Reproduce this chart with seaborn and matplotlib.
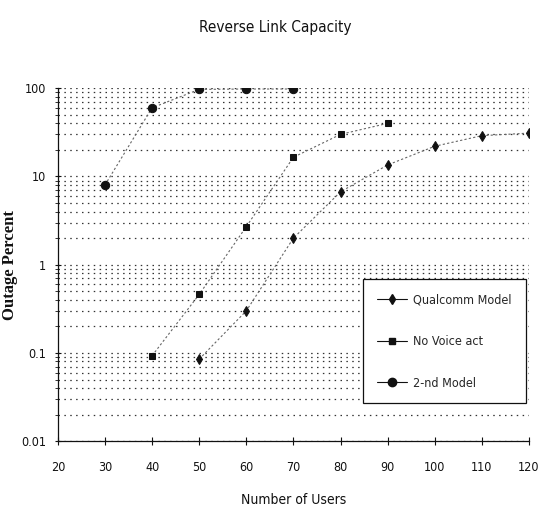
import numpy as np
import pandas as pd
import matplotlib
matplotlib.use("Agg")
import matplotlib.pyplot as plt
from matplotlib.lines import Line2D
from matplotlib.ticker import LogLocator, FixedLocator
import seaborn as sns

# ── Data ──────────────────────────────────────────────────────────────────────
qualcomm_users  = [50, 60, 70, 80, 90, 100, 110, 120]
qualcomm_outage = [0.085, 0.30, 2.0, 6.7, 13.5, 22, 29, 31]

novoice_users  = [40, 50, 60, 70, 80, 90]
novoice_outage = [0.093, 0.46, 2.7, 16.5, 30, 40]

second_users  = [30, 40, 50, 60, 70]
second_outage = [8.0, 60, 97, 98, 98]

x_ticks = [20, 30, 40, 50, 60, 70, 80, 90, 100, 110, 120]
y_ticks = [0.01, 0.1, 1, 10, 100]
y_labels = ["0.01", "0.1", "1", "10", "100"]

INK = "#111111"
GRID = "#333333"

sns.set_style("white")
plt.rcParams["font.family"] = ["DejaVu Sans"]
plt.rcParams["font.stretch"] = "condensed"

fig = plt.figure(figsize=(5.51, 5.13), dpi=100)
ax = fig.add_axes([0.105, 0.140, 0.855, 0.688])

series = [
    ("Qualcomm Model", qualcomm_users, qualcomm_outage, "d", 5),
    ("No Voice act", novoice_users, novoice_outage, "s", 4.5),
    ("2-nd Model", second_users, second_outage, "o", 6),
]

for name, xs, ys, mk, ms in series:
    df = pd.DataFrame({"users": xs, "outage": ys})
    sns.lineplot(data=df, x="users", y="outage", ax=ax, color="#666666",
                 linestyle=(0, (2, 2)), linewidth=0.8, marker=mk,
                 markersize=ms, markerfacecolor=INK, markeredgecolor=INK,
                 legend=False)

ax.set_yscale("log")
ax.set_xlim(20, 120)
ax.set_ylim(0.01, 100)

# dotted grid at every major/minor log tick
ax.yaxis.set_major_locator(FixedLocator(y_ticks))
ax.yaxis.set_minor_locator(LogLocator(base=10, subs=np.arange(2, 10)))
ax.grid(axis="y", which="both", color=GRID, linestyle=(0, (1.2, 3.5)),
        linewidth=0.9)
ax.grid(axis="x", visible=False)
ax.set_xticks(x_ticks)
ax.set_xticklabels([str(t) for t in x_ticks], fontsize=9, color=INK)
ax.set_yticklabels(y_labels, fontsize=9, color=INK)
ax.yaxis.set_minor_formatter(plt.NullFormatter())

ax.tick_params(axis="x", bottom=True, direction="inout", length=6, width=0.8,
               color=INK, pad=11)
ax.tick_params(axis="y", which="major", left=True, direction="inout", length=5,
               width=0.8, color=INK, pad=6)
ax.tick_params(axis="y", which="minor", left=True, direction="out", length=2,
               width=0.6, color=INK)

for side in ("top", "right"):
    ax.spines[side].set_visible(False)
for side in ("left", "bottom"):
    ax.spines[side].set_color(INK)
    ax.spines[side].set_linewidth(0.9)

ax.set_xlabel("Number of Users", fontsize=10, color=INK, labelpad=14)
ax.set_ylabel("Outage Percent", fontsize=12, color=INK, fontweight="bold",
              family=["Liberation Serif", "DejaVu Serif"])
ax.yaxis.set_label_coords(-0.085, 0.5)
fig.text(0.5, 0.947, "Reverse Link Capacity", ha="center", va="center",
         fontsize=11, color=INK)

handles = [Line2D([0], [0], color=INK, linewidth=0.8, marker=mk,
                  markersize=ms, markerfacecolor=INK, markeredgecolor=INK)
           for _, _, _, mk, ms in series]
leg = ax.legend(handles, [s[0] for s in series], loc="lower right",
                bbox_to_anchor=(0.998, 0.10), fontsize=9, frameon=True,
                fancybox=False, edgecolor=INK, framealpha=1,
                labelspacing=2.3, handlelength=2.4, borderpad=1.1,
                handletextpad=0.5, borderaxespad=0.2)
leg.get_frame().set_linewidth(0.9)

fig.savefig("out.png", dpi=100, facecolor="white")
